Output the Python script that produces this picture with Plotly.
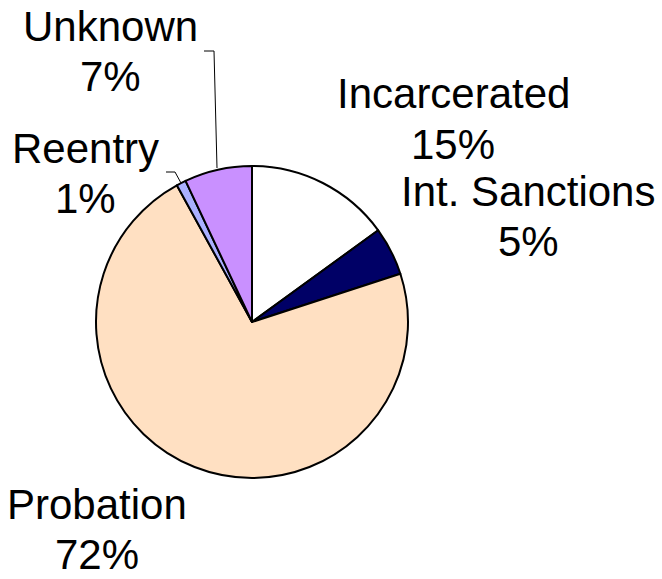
import plotly.graph_objects as go

categories = ["Incarcerated", "Int. Sanctions", "Probation", "Reentry", "Unknown"]
values = [15, 5, 72, 1, 7]
colors = ["#FFFFFF", "#000066", "#FFE0C2", "#AAB0FF", "#C990FF"]

W, H = 662, 579

def px(x):
    return x / W

def py(y):
    return 1 - y / H

fig = go.Figure(go.Pie(
    labels=categories,
    values=values,
    sort=False,
    direction="clockwise",
    rotation=0,
    marker=dict(colors=colors, line=dict(color="black", width=2)),
    textinfo="none",
    hoverinfo="label+percent",
    showlegend=False,
    domain=dict(x=[px(96), px(408)], y=[py(478), py(166)]),
))

# label positions: (x centre, y of first line centre) in page pixels
label_pos = {
    "Incarcerated": (453, 94),
    "Int. Sanctions": (528, 191),
    "Probation": (97, 504),
    "Reentry": (85, 148),
    "Unknown": (110, 27),
}
LINE_GAP = 50

total = sum(values)
font = dict(family="Liberation Sans, Arial, sans-serif", size=42, color="black")
annotations = []
for cat, v in zip(categories, values):
    x, y = label_pos[cat]
    for i, t in enumerate([cat, f"{round(100 * v / total)}%"]):
        annotations.append(dict(
            x=px(x), y=py(y + i * LINE_GAP), xref="paper", yref="paper",
            text=t, showarrow=False, xanchor="center", yanchor="middle",
            font=font,
        ))

leaders = [
    [(204, 51), (214, 51), (217, 168)],
    [(166, 172), (175, 172), (181, 183)],
]
shapes = []
for pts in leaders:
    for (x0, y0), (x1, y1) in zip(pts[:-1], pts[1:]):
        shapes.append(dict(type="line", xref="paper", yref="paper",
                           x0=px(x0), y0=py(y0), x1=px(x1), y1=py(y1),
                           line=dict(color="black", width=1)))

fig.update_layout(
    width=W, height=H,
    margin=dict(l=0, r=0, t=0, b=0),
    paper_bgcolor="white",
    plot_bgcolor="white",
    annotations=annotations,
    shapes=shapes,
)

fig.write_html("out.html", config={"displayModeBar": False},
               post_script="document.body.style.margin='0';")
